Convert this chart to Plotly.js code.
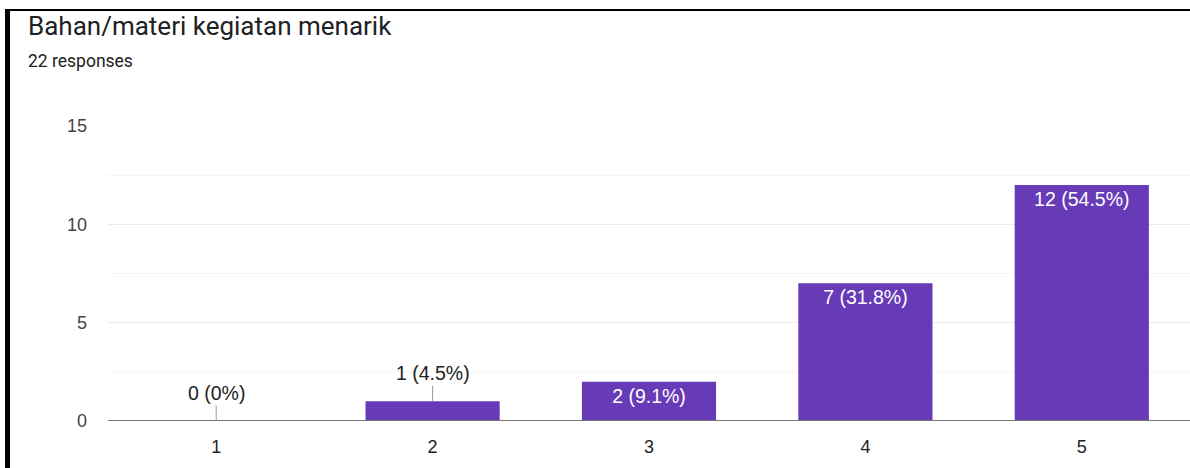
<!DOCTYPE html>
<html>
<head>
<meta charset="utf-8">
<script src="https://cdn.plot.ly/plotly-3.0.1.min.js"></script>
<style>
html,body{margin:0;padding:0;background:#fff;}
#chart{width:1190px;height:468px;position:relative;}
.bl{position:absolute;background:#000;pointer-events:none;z-index:10;}
.ttl{position:absolute;font-family:Roboto,sans-serif;color:#202124;pointer-events:none;z-index:10;white-space:nowrap;}
</style>
</head>
<body>
<div id="wrap" style="position:relative;width:1190px;height:468px;">
<div id="chart"></div>
<div class="bl" style="left:5px;top:9px;width:5px;height:459px;"></div>
<div class="bl" style="left:5px;top:9px;width:1185px;height:2px;"></div>
<div class="ttl" style="left:28px;top:11px;font-size:26px;">Bahan/materi kegiatan menarik</div>
<div class="ttl" style="left:28px;top:51px;font-size:17.5px;">22 responses</div>
</div>
<script>
var categories = ["1", "2", "3", "4", "5"];
var counts = [0, 1, 2, 7, 12];
var percents = ["0%", "4.5%", "9.1%", "31.8%", "54.5%"];
var yTicks = [0, 5, 10, 15];

var labels = counts.map(function(c, i){ return c + " (" + percents[i] + ")"; });
var insideText = counts.map(function(c, i){ return c >= 2 ? labels[i] : ""; });

var annotations = [];
counts.forEach(function(c, i){
  if (c < 2) {
    annotations.push({
      x: i, y: c, xref: "x", yref: "y",
      text: labels[i], showarrow: true, arrowhead: 0, arrowwidth: 1,
      arrowcolor: "#999", ax: 0, ay: -28,
      font: {family: "Liberation Sans, Arial, sans-serif", size: 19.5, color: "#222"}
    });
  }
});

var trace = {
  type: "bar",
  x: categories,
  y: counts,
  text: insideText,
  textposition: "inside",
  insidetextanchor: "end",
  textangle: 0,
  cliponaxis: false,
  insidetextfont: {family: "Liberation Sans, Arial, sans-serif", size: 19.5, color: "#fff"},
  marker: {color: "#673ab7", line: {width: 0}},
  width: 0.62,
  hoverinfo: "none"
};

var layout = {
  width: 1190, height: 468,
  margin: {l: 108, r: 0, t: 126, b: 47},
  paper_bgcolor: "#fff", plot_bgcolor: "#fff",
  showlegend: false,
  font: {family: "Liberation Sans, Arial, sans-serif", size: 18, color: "#444"},
  xaxis: {
    type: "category", range: [-0.5, 4.5],
    showgrid: false, zeroline: false, showline: false,
    ticks: "", tickfont: {size: 18, color: "#222"}, ticklabelstandoff: 13
  },
  yaxis: {
    range: [0, 15], tickvals: yTicks, showgrid: true, gridcolor: "#ebebeb", gridwidth: 1,
    minor: {dtick: 2.5, showgrid: true, gridcolor: "#f4f4f4", gridwidth: 1},
    zeroline: false, showline: false, ticks: "", ticklabelstandoff: 20,
    tickfont: {size: 18, color: "#444"}
  },
  shapes: [{type: "line", xref: "paper", yref: "y", x0: 0, x1: 1, y0: 0, y1: 0,
            line: {color: "#777", width: 2}, layer: "above"}],
  annotations: annotations
};

Plotly.newPlot("chart", [trace], layout, {staticPlot: true, displayModeBar: false});
</script>
</body>
</html>
